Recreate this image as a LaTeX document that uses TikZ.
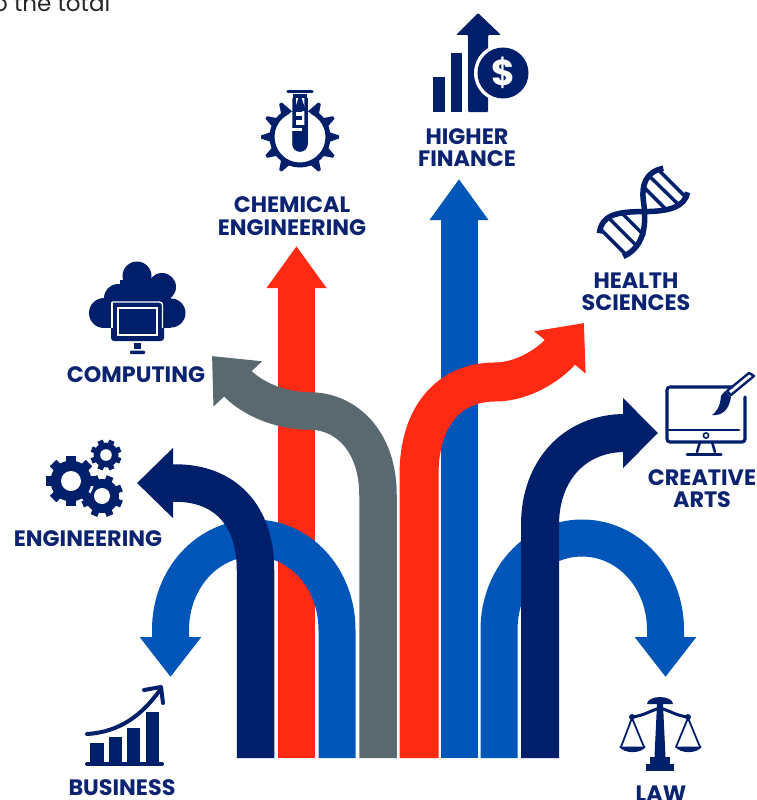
\documentclass[tikz,border=0pt]{standalone}
\usepackage{fontspec}
\setmainfont{Poppins}
\usetikzlibrary{arrows.meta}
\definecolor{navy}{HTML}{001F6B}
\definecolor{midblue}{HTML}{0055B8}
\definecolor{hotred}{HTML}{FF2A14}
\definecolor{slategrey}{HTML}{5A6870}
\definecolor{inktext}{HTML}{0B2370}
\tikzset{
  flow/.style n args={3}{line width=#1pt,-{Triangle[length=#2pt,width=#3pt]}},
  lbl/.style={inner sep=0pt,anchor=center,align=center,text=inktext,font=\fontsize{22.3}{22.5}\selectfont\bfseries},
  iconline/.style={draw=navy,line cap=round,line join=round}
}
\newcommand\gearicon[7]{%
  \begin{scope}[shift={(#1,#2)}]
    \fill[navy] (0,0) circle[radius=#3];
    \foreach \k in {1,...,#5}{
      \fill[navy,rotate={360*\k/#5+#7}] (-#6,0) rectangle (#6,{#3+0.24*#3});
    }
    \fill[white] (0,0) circle[radius=#4];
  \end{scope}}
\begin{document}
\begin{tikzpicture}[x=1pt,y=-1pt]
\useasboundingbox (0,0) rectangle (756,800);
\fill[white] (0,0) rectangle (756,800);

% start and tip coordinates
\coordinate (chemS) at (296.5,758); \coordinate (chemT) at (296.5,246);
\coordinate (finS) at (459,758);    \coordinate (finT) at (459,179);
\coordinate (compS) at (378,758);   \coordinate (compT) at (212,356);
\coordinate (healS) at (419,758);   \coordinate (healT) at (584,323);
\coordinate (bizS) at (337,758);    \coordinate (bizT) at (170.5,677);
\coordinate (lawS) at (499,758);    \coordinate (lawT) at (665.5,677);
\coordinate (engS) at (255.5,758);  \coordinate (engT) at (137,483);
\coordinate (artS) at (540,758);    \coordinate (artT) at (658,433);

% connectors
\draw[flow={37}{42}{57},hotred] (chemS) -- (chemT);
\draw[flow={37}{41}{56},midblue] (finS) -- (finT);
\draw[flow={37.5}{38}{64},slategrey] (compS) -- (378,495)
  .. controls (378,440) and (345,411) .. (310,411)
  .. controls (278,411) and (250,397) .. (compT);
\draw[flow={39}{38}{64},hotred] (healS) -- (419,475)
  .. controls (419,415) and (450,382) .. (495,382)
  .. controls (525,382) and (552,362) .. (healT);
\draw[flow={37}{40}{59},midblue] (bizS) -- (337,630)
  .. controls (337,578) and (300,538) .. (254,538)
  .. controls (208,538) and (170.5,578) .. (170.5,630) -- (bizT);
\draw[flow={37}{40}{59},midblue] (lawS) -- (499,630)
  .. controls (499,578) and (536,538) .. (582,538)
  .. controls (628,538) and (665.5,578) .. (665.5,630) -- (lawT);
\draw[flow={37.5}{36}{68},navy] (engS) -- (255.5,570)
  .. controls (255.5,515) and (225,483) .. (175,483) -- (engT);
\draw[flow={38}{35}{68},navy] (artS) -- (540,525)
  .. controls (540,470) and (575,433) .. (625,433) -- (artT);

% labels
\node[lbl] (finL) at (467,147.5) {HIGHER\\FINANCE};
\node[lbl] (chemL) at (292,216) {CHEMICAL\\ENGINEERING};
\node[lbl] (healL) at (636,291.5) {HEALTH\\SCIENCES};
\node[lbl] (compL) at (136,375) {COMPUTING};
\node[lbl] (engL) at (88,539) {ENGINEERING};
\node[lbl] (bizL) at (122,788) {BUSINESS};
\node[lbl] (artL) at (702,488.5) {CREATIVE\\ARTS};
\node[lbl] (lawL) at (661,794) {LAW};
\node[anchor=base west,inner sep=0pt,font=\fontsize{23}{24}\selectfont,text=black!85] (topL) at (-7,12) {o the total};

% finance icon
\fill[navy] (433,77) rectangle (445,112);
\fill[navy] (451,53) rectangle (462,112);
\fill[navy,rounded corners=1pt] (468,112) -- (468,35) -- (456,35) -- (478,13) -- (501,35) -- (488,35) -- (488,112) -- cycle;
\fill[white] (503,73) circle[radius=29];
\fill[navy] (503,73) circle[radius=25.5];
\node[inner sep=0pt,text=white,font=\fontsize{36}{36}\selectfont\bfseries] (finSym) at (503,73) {\$};

% chemical icon
\begin{scope}[shift={(300,137)}]
  \draw[navy,line width=5pt] (-65:28) arc[start angle=-65,end angle=245,radius=28];
  \foreach \a in {-60,-30,0,30,60,90,120,150,180,210,240}{
    \fill[navy,rotate=\a] (26,-6) -- (39,-1.5) -- (39,1.5) -- (26,6) -- cycle;
  }
\end{scope}
\draw[navy,line width=3.5pt,line cap=round] (288,91.5) -- (312,91.5);
\fill[navy] (293,94) rectangle (307,98);
\draw[navy,line width=3.5pt] (294,98) -- (294,144) arc[start angle=180,end angle=0,radius=6] -- (306,98);
\fill[navy] (292.5,125) -- (307.5,125) -- (307.5,144) arc[start angle=0,end angle=180,radius=7.5] -- cycle;
\fill[navy] (292.5,108) rectangle (302,112);
\fill[navy] (292.5,116) rectangle (302,120);
\fill[white] (292,128) rectangle (302,130.5);

% cloud computing icon
\fill[navy] (137,276) circle[radius=14.5];
\fill[navy] (162,287) circle[radius=14];
\fill[navy] (118,298) circle[radius=14];
\fill[navy] (104,313) circle[radius=15];
\fill[navy] (171,313) circle[radius=14.5];
\fill[navy] (104,298) rectangle (171,328);
\fill[navy] (120,280) rectangle (160,300);
\fill[navy,rounded corners=3pt] (111,301.5) rectangle (164,341);
\draw[white,line width=1.4pt,rounded corners=3pt] (112,302) -- (162.5,302) -- (162.5,328);
\draw[white,line width=1.4pt,rounded corners=3pt] (112,328) -- (112,302);
\draw[white,line width=1.4pt] (118,308) rectangle (157,335);
\fill[navy] (133.5,343) rectangle (141,349);
\fill[navy,rounded corners=1pt] (130,350.5) rectangle (145,354);

% dna icon
\begin{scope}[shift={(580,150)},x=0.333pt,y=-0.333pt]
  \draw[navy,line width=5.5pt] (250,55) .. controls (195,65) and (185,110) .. (190,150)
    .. controls (197,200) and (205,285) .. (130,320);
  \draw[navy,line width=5.5pt] (323,127) .. controls (315,170) and (270,185) .. (190,185)
    .. controls (110,185) and (65,195) .. (58,250);
  \draw[navy,line width=3.4pt] (238,62) -- (318,142);
  \draw[navy,line width=3.4pt] (212,82) -- (300,168);
  \draw[navy,line width=3.4pt] (192,112) -- (262,182);
  \draw[navy,line width=3.4pt] (122,186) -- (194,258);
  \draw[navy,line width=3.4pt] (80,198) -- (168,286);
  \draw[navy,line width=3.4pt] (60,236) -- (140,316);
\end{scope}

% monitor and brush icon
\draw[iconline,line width=3.2pt,rounded corners=3pt] (732,387) -- (667,387) -- (667,442) -- (745,442) -- (745,397);
\draw[iconline,line width=2.6pt] (667,430) -- (739,430);
\draw[navy,line width=1.6pt] (706,435.5) circle[radius=2.6];
\draw[iconline,line width=2.6pt] (700,442) -- (697,452) (712,442) -- (715,452);
\draw[iconline,line width=3pt] (687,454) -- (721,454);
\draw[iconline,line width=2.4pt] (754,376) -- (731,395) -- (727,391) -- (749,373) -- cycle;
\fill[navy] (731,397) -- (725,391) -- (721,396) .. controls (720,408) and (716,412) .. (712,415)
  .. controls (722,416) and (729,410) .. cycle;

% scales icon
\fill[navy] (647,704) arc[start angle=180,end angle=360,x radius=13,y radius=7] -- cycle;
\fill[navy] (657,704) -- (663,704) -- (665.5,757) -- (654.5,757) -- cycle;
\draw[iconline,line width=3pt] (632,717) .. controls (643,716) and (652,710) .. (660,708)
   .. controls (668,710) and (677,716) .. (688,717);
\fill[navy] (632,717) circle[radius=3];
\fill[navy] (688,717) circle[radius=3];
\draw[iconline,line width=1.8pt] (621,747) -- (632,718) -- (644,747);
\draw[iconline,line width=1.8pt] (676,747) -- (688,718) -- (700,747);
\fill[navy] (619,746.5) .. controls (624,754) and (641,754) .. (646,746.5) -- cycle;
\fill[navy] (675,746.5) .. controls (680,754) and (697,754) .. (702,746.5) -- cycle;
\fill[navy] (650,757) rectangle (670,764);
\fill[navy] (646,764) rectangle (674,771);

% gears icon
\gearicon{102}{496}{17}{8}{8}{3.6}{22.5}
\gearicon{106}{455}{12.5}{5.8}{8}{2.8}{22.5}
\fill[white] (71,481) circle[radius=23];
\gearicon{71}{481}{20.5}{10}{8}{4.6}{0}

% business icon
\fill[navy] (90,743) rectangle (104,762);
\fill[navy] (109,737) rectangle (122,762);
\fill[navy] (127,728) rectangle (140,762);
\fill[navy] (146,712) rectangle (159,762);
\draw[iconline,line width=4pt] (87,764) -- (162,764);
\draw[iconline,line width=4pt] (87,734) .. controls (120,732) and (142,715) .. (160,690);
\draw[iconline,line width=4pt] (144,690) -- (161,687) -- (163,703);
\end{tikzpicture}
\end{document}
